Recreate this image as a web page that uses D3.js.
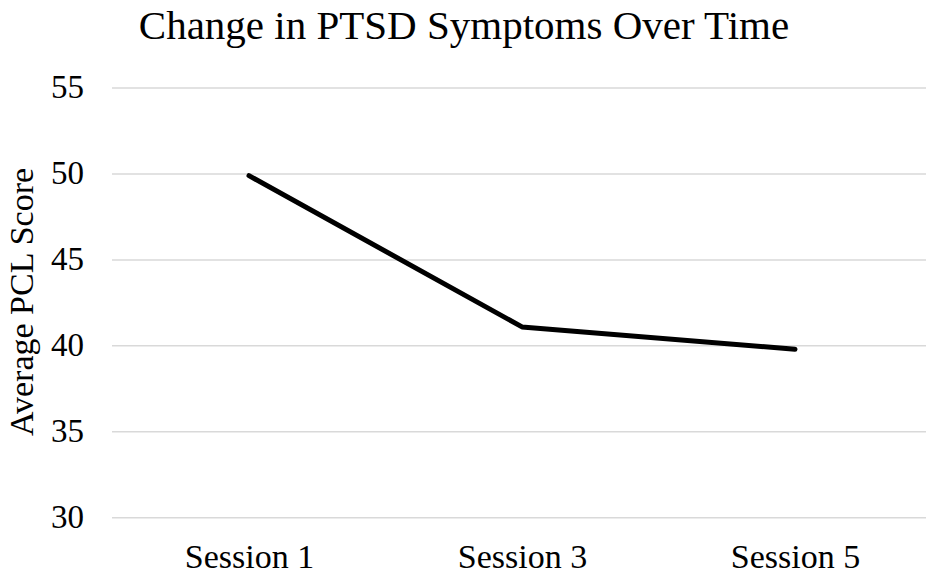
<!DOCTYPE html>
<html>
<head>
<meta charset="utf-8">
<script src="https://cdn.jsdelivr.net/npm/d3@7"></script>
<style>
  body { margin: 0; background: #fff; }
  svg text { font-family: "Liberation Serif", "Times New Roman", serif; fill: #000; }
</style>
</head>
<body>
<div class="chart"></div>
<script>
// data
const sessions = ['Session 1', 'Session 3', 'Session 5'];
const pclScores = [49.9, 41.1, 39.8];
const yTicks = [30, 35, 40, 45, 50, 55];

const W = 926, H = 575;
const margin = { top: 88, right: 0, bottom: 57, left: 112 };

const svg = d3.select('.chart')
    .append('svg')
    .attr('width', W)
    .attr('height', H);

const xScale = d3.scalePoint()
    .domain(sessions)
    .range([249, 795]);

const yScale = d3.scaleLinear()
    .domain([30, 55])
    .range([H - margin.bottom - 0.3, margin.top]);

// gridlines
svg.append('g')
    .selectAll('line')
    .data(yTicks)
    .enter()
    .append('line')
    .attr('x1', margin.left)
    .attr('x2', W)
    .attr('y1', d => yScale(d))
    .attr('y2', d => yScale(d))
    .attr('stroke', '#d9d9d9')
    .attr('stroke-width', 1.5);

// y axis labels
const yAxis = d3.axisLeft(yScale).tickValues(yTicks).tickSize(0).tickPadding(0);
svg.append('g')
    .attr('transform', 'translate(84,0)')
    .call(yAxis)
    .call(g => g.select('.domain').remove())
    .selectAll('text')
    .attr('font-family', '"Liberation Serif", serif')
    .attr('font-size', 33)
    .attr('dy', '0.3em');

// x axis labels
const xAxis = d3.axisBottom(xScale).tickSize(0).tickPadding(0);
svg.append('g')
    .attr('transform', `translate(0, 568)`)
    .call(xAxis)
    .call(g => g.select('.domain').remove())
    .selectAll('text')
    .attr('font-family', '"Liberation Serif", serif')
    .attr('font-size', 34)
    .attr('dy', 0);

// line
const line = d3.line()
    .x((d, i) => xScale(sessions[i]))
    .y(d => yScale(d));

svg.append('path')
    .datum(pclScores)
    .attr('d', line)
    .attr('fill', 'none')
    .attr('stroke', '#000')
    .attr('stroke-width', 5)
    .attr('stroke-linecap', 'round')
    .attr('stroke-linejoin', 'round');

// title
svg.append('text')
    .attr('x', 464)
    .attr('y', 39)
    .attr('text-anchor', 'middle')
    .attr('font-size', 41)
    .text('Change in PTSD Symptoms Over Time');

// y axis title
svg.append('text')
    .attr('transform', 'translate(33, 302) rotate(-90)')
    .attr('text-anchor', 'middle')
    .attr('font-size', 34)
    .text('Average PCL Score');
</script>
</body>
</html>
